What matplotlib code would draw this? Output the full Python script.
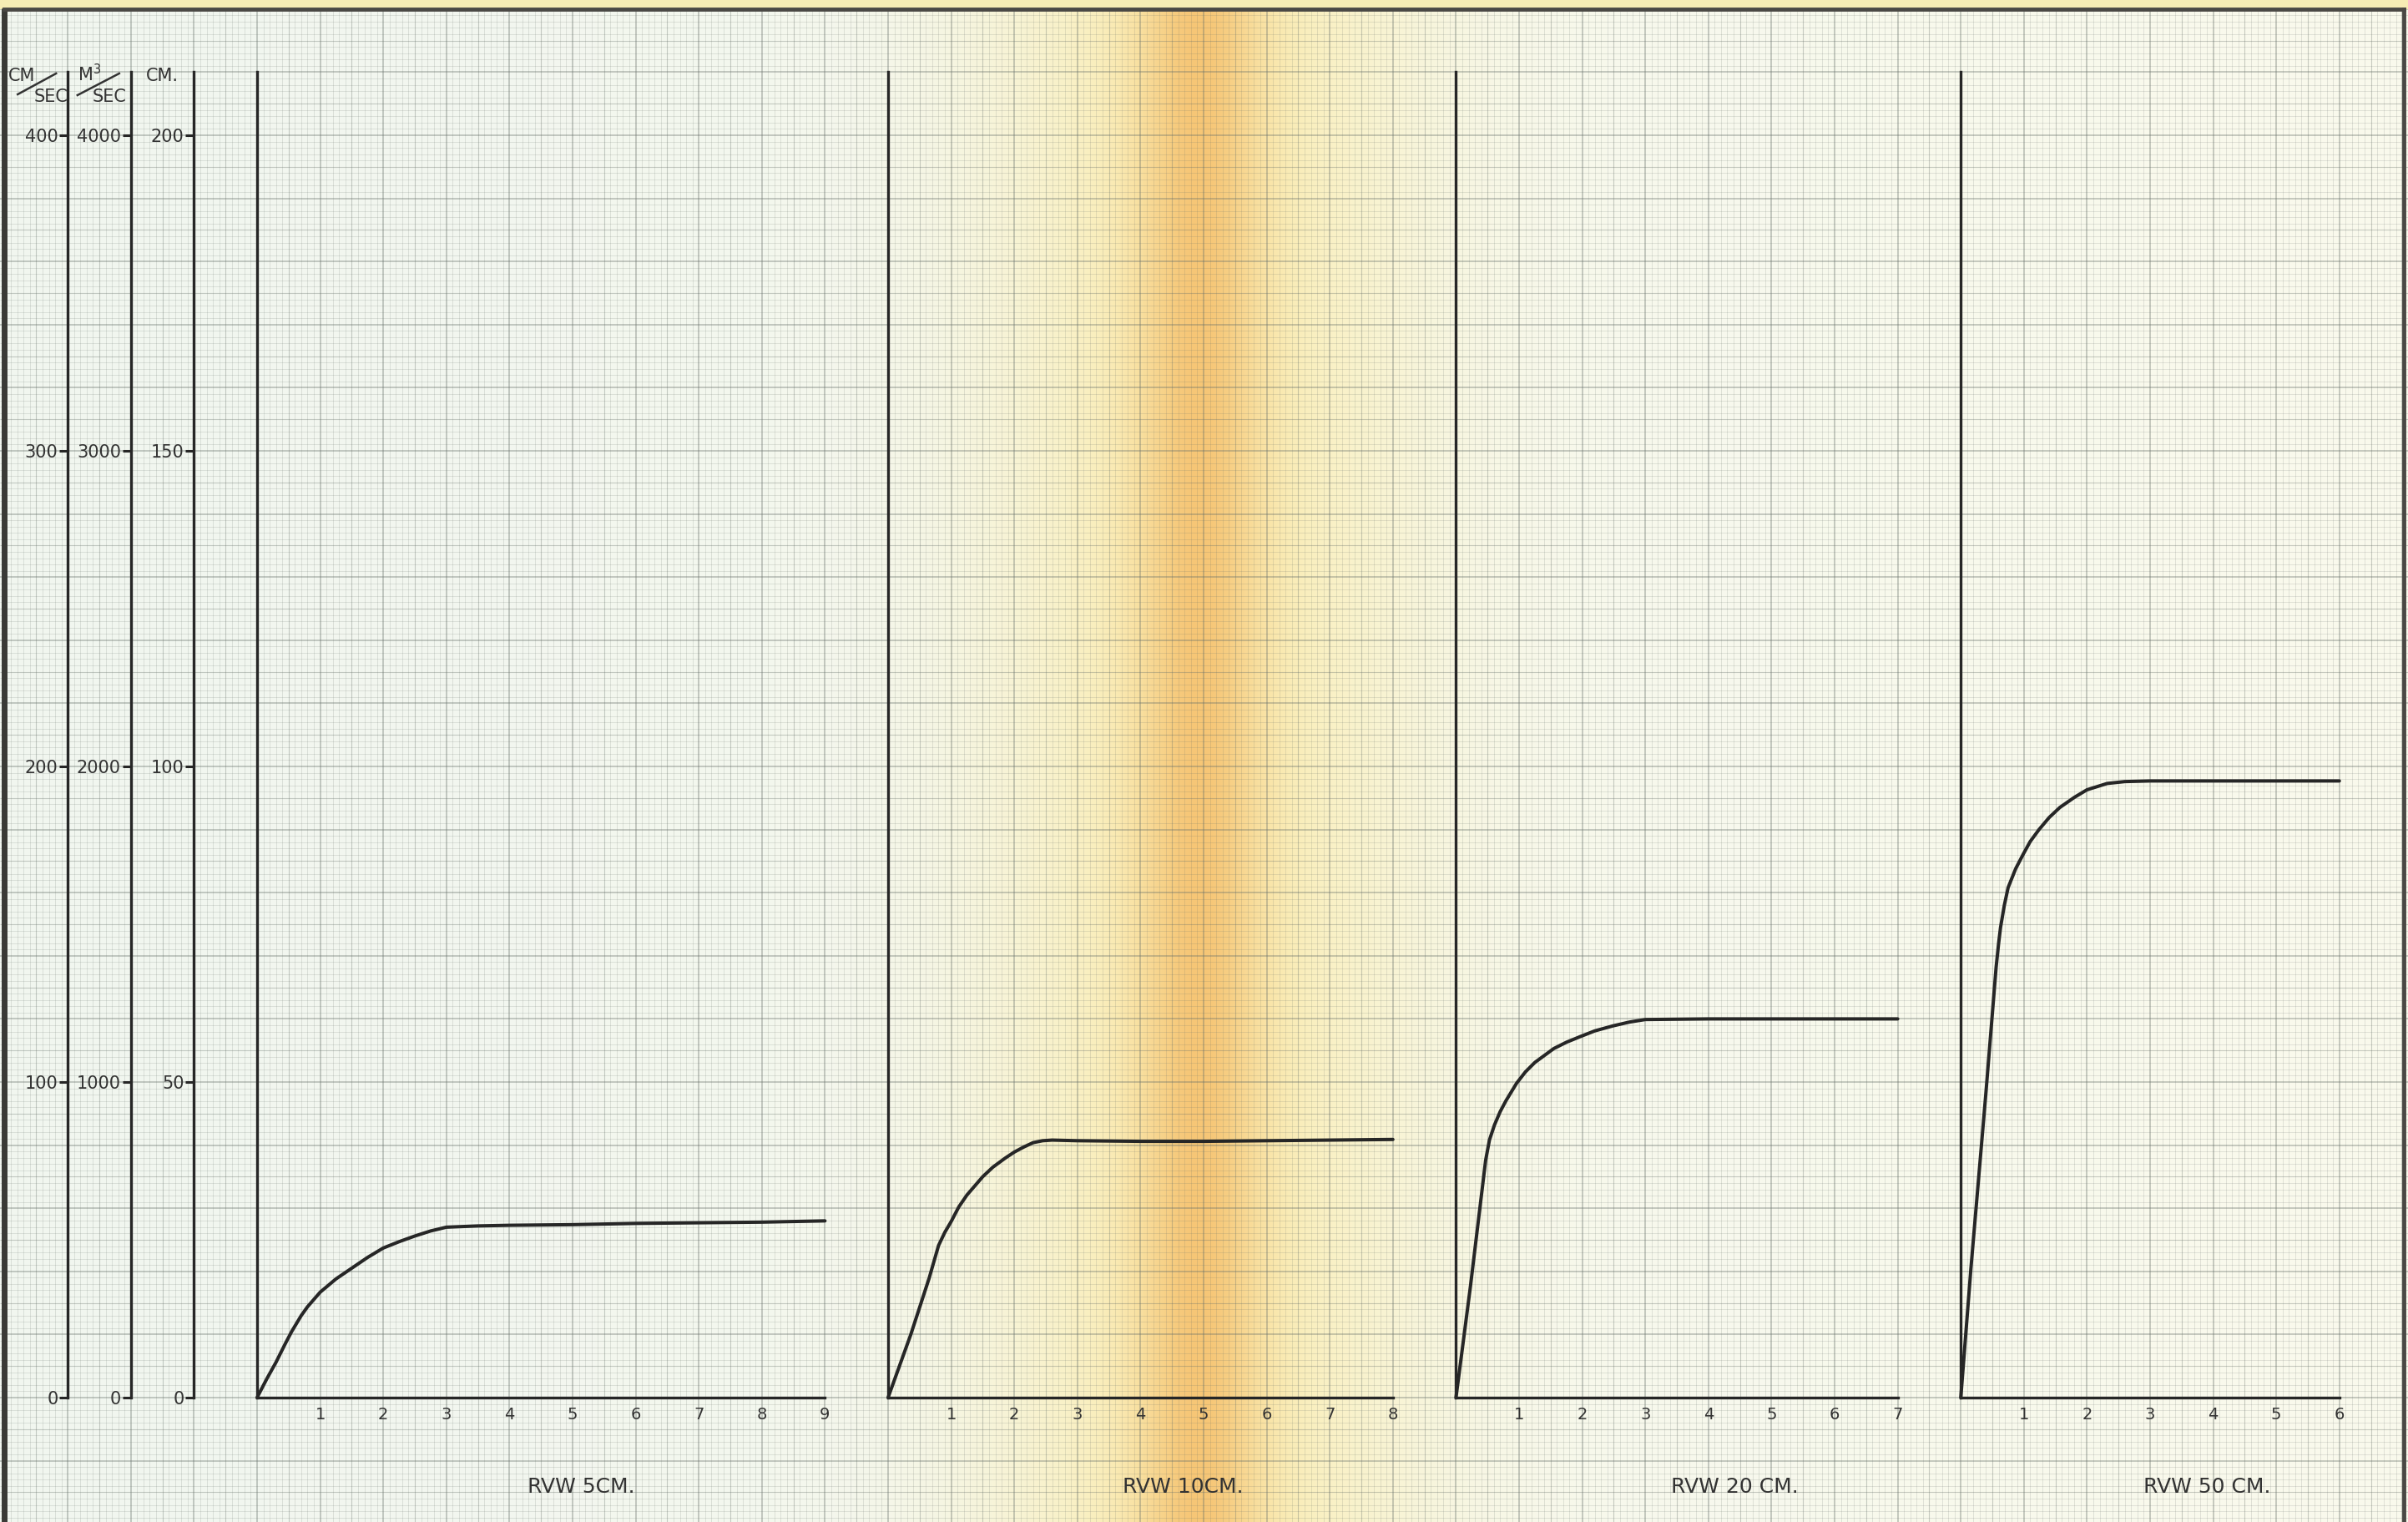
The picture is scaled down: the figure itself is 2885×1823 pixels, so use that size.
import numpy as np
import matplotlib.pyplot as plt

W, H = 2885, 1823
DPI = 100
U = 75.6      # one square of the paper (1 cm) in pixels
X0 = 308.0    # paper x of the first panel origin
Y0 = 1674.0   # paper y of the common time axis

# panels: time axis length, position on the paper (in squares), title
titles = ["RVW 5CM.", "RVW 10CM.", "RVW 20 CM.", "RVW 50 CM."]
spans = [9, 8, 7, 6]
offsets = [0, 10, 19, 27]
title_x = [5.13, 4.68, 4.42, 3.9]

# curves (x: time ticks, y: cm)
t_05 = [0, 0.15, 0.3, 0.45, 0.55, 0.7, 0.8, 1.0, 1.25, 1.5, 1.75, 2.0, 2.25, 2.5, 2.75, 3.0, 3.5, 4, 5, 6, 7, 8, 9]
h_05 = [0, 2.9, 5.6, 8.6, 10.5, 13.0, 14.4, 16.7, 18.8, 20.5, 22.2, 23.7, 24.7, 25.6, 26.4, 27.0, 27.2, 27.3, 27.4, 27.6, 27.7, 27.8, 28.0]

t_10 = [0, 0.36, 0.65, 0.8, 0.9, 1.0, 1.12, 1.25, 1.5, 1.66, 1.85, 2.0, 2.15, 2.3, 2.45, 2.6, 3, 4, 5, 6, 7, 8]
h_10 = [0, 10.0, 18.9, 24.1, 26.2, 27.9, 30.2, 32.1, 35.0, 36.5, 37.9, 38.9, 39.7, 40.4, 40.7, 40.8, 40.7, 40.6, 40.6, 40.7, 40.8, 40.9]

t_20 = [0, 0.23, 0.47, 0.53, 0.61, 0.7, 0.79, 0.96, 1.1, 1.25, 1.55, 1.75, 1.97, 2.2, 2.49, 2.75, 3.0, 4, 5, 6, 7]
h_20 = [0, 17.7, 37.6, 40.8, 43.2, 45.3, 47.0, 49.8, 51.6, 53.1, 55.3, 56.3, 57.2, 58.1, 58.9, 59.5, 59.9, 60.0, 60.0, 60.0, 60.0]

t_50 = [0, 0.16, 0.40, 0.56, 0.60, 0.63, 0.69, 0.75, 0.87, 0.99, 1.1, 1.24, 1.4, 1.57, 1.8, 2.0, 2.32, 2.6, 3.0, 4, 5, 6]
h_50 = [0, 20.4, 48.5, 68.2, 72.0, 74.5, 78.0, 80.8, 83.8, 86.1, 88.1, 90.0, 91.9, 93.5, 95.1, 96.3, 97.3, 97.6, 97.7, 97.7, 97.7, 97.7]

curves = [(t_05, h_05), (t_10, h_10), (t_20, h_20), (t_50, h_50)]

# left scales
ticks_v = [0, 100, 200, 300, 400]          # CM/SEC
ticks_q = [0, 1000, 2000, 3000, 4000]      # M3/SEC
ticks_h = [0, 50, 100, 150, 200]           # CM.

INK = "#262626"
TXT = "#333333"
plt.rcParams["font.family"] = ["DejaVu Sans"]


def rect(left, top, width, height):
    """pixel box (y down) -> figure fraction"""
    return [left / W, 1 - (top + height) / H, width / W, height / H]


fig = plt.figure(figsize=(W / DPI, H / DPI), dpi=DPI)

# ---- the sheet of graph paper ----
bg = fig.add_axes([0, 0, 1, 1])
bg.set_xlim(0, W)
bg.set_ylim(H, 0)
bg.axis("off")

xs = np.arange(W)
left_c = np.array([241, 246, 240]) / 255
right_c = np.array([250, 250, 236]) / 255
yellow = np.array([251, 238, 180]) / 255
orange = np.array([246, 198, 118]) / 255
f = (xs / W)[:, None]
paper = left_c * (1 - f) + right_c * f
w_wide = np.exp(-((xs - 1440) / 250.0) ** 2)[:, None]
w_core = np.exp(-((xs - 1436) / 72.0) ** 2)[:, None]
paper = paper * (1 - w_wide) + yellow * w_wide
paper = paper * (1 - w_core) + orange * w_core
sheet = np.repeat(paper[None, :, :], 8, axis=0).astype(np.float32)
bg.imshow(sheet, extent=(0, W, H, 0), aspect="auto",
          interpolation="nearest", zorder=0)

step = U / 10
kx = np.arange(-int(X0 / step) - 1, int((W - X0) / step) + 2)
ky = np.arange(-int((H - Y0) / step) - 1, int(Y0 / step) + 2)
levels = (
    (lambda k: k % 5 != 0, 0.5, 0.24),
    (lambda k: (k % 5 == 0) & (k % 10 != 0), 0.8, 0.34),
    (lambda k: k % 10 == 0, 1.2, 0.42),
)
for sel, lw, alpha in levels:
    bg.vlines(X0 + kx[sel(kx)] * step, 0, H, colors="#67706a", lw=lw, alpha=alpha, zorder=1)
    bg.hlines(Y0 - ky[sel(ky)] * step, 0, W, colors="#67706a", lw=lw, alpha=alpha, zorder=1)

# margin above the frame and the frame itself
bg.axhspan(0, 10, color="#f6ecb4", zorder=2)
bg.plot([5, 5], [10, H], color="#3a3a36", lw=5, solid_capstyle="butt", zorder=3)
bg.plot([5, 2880], [11, 11], color="#4a4844", lw=3.5, zorder=3)
bg.plot([2880, 2880], [11, H], color="#4a4844", lw=3.5, zorder=3)

TOP = Y0 - 21 * U

# ---- left scales ----
scales = [(ticks_v, 420, 3), (ticks_q, 4200, 2), (ticks_h, 210, 1)]
for ticks, ymax, back in scales:
    lx = X0 - back * U
    sa = fig.add_axes(rect(lx, TOP, 0.5 * U, 21 * U))
    sa.patch.set_alpha(0)
    for s in ("right", "top", "bottom"):
        sa.spines[s].set_visible(False)
    sa.spines["left"].set_linewidth(2.4)
    sa.spines["left"].set_color(INK)
    sa.set_ylim(0, ymax)
    sa.set_yticks(ticks)
    sa.set_yticklabels([str(v) for v in ticks])
    sa.set_xticks([])
    sa.tick_params(axis="y", direction="out", length=7, width=2.2, color=INK,
                   labelsize=15, pad=1.5, labelcolor=TXT)

# column heads
L1, L2, L3 = X0 - 3 * U, X0 - 2 * U, X0 - U
hd = dict(fontsize=15, color=TXT, va="baseline", ha="left", zorder=4)
bg.text(L1 - 71, 97, "CM", **hd)
bg.text(L1 - 41, 122, "SEC", **hd)
bg.plot([L1 - 60, L1 - 14], [113, 88], color=TXT, lw=1.8, zorder=4)
bg.text(L2 - 64, 97, "M$^{3}$", **hd)
bg.text(L2 - 46, 122, "SEC", **hd)
bg.plot([L2 - 64, L2 - 14], [114, 88], color=TXT, lw=1.8, zorder=4)
bg.text(L3 - 58, 97, "CM.", **hd)

# ---- the four panels ----
for (t, h), n, off, title, tx in zip(curves, spans, offsets, titles, title_x):
    ax = fig.add_axes(rect(X0 + off * U, TOP, n * U, 21 * U))
    ax.patch.set_alpha(0)
    ax.set_xlim(0, n)
    ax.set_ylim(0, 210)
    for s in ("right", "top"):
        ax.spines[s].set_visible(False)
    for s in ("left", "bottom"):
        ax.spines[s].set_linewidth(2.4)
        ax.spines[s].set_color(INK)
    ax.set_xticks(range(1, n + 1))
    ax.set_xticklabels([str(i) for i in range(1, n + 1)])
    ax.set_yticks([])
    ax.tick_params(axis="x", length=0, pad=8, labelsize=14, labelcolor=TXT)
    ax.plot(t, h, color=INK, lw=2.9, solid_capstyle="round", solid_joinstyle="round", clip_on=False)
    ax.text(tx, -14.2, title, ha="center", va="center", fontsize=18, color=TXT,
            clip_on=False)

fig.savefig("out.png", dpi=DPI)
